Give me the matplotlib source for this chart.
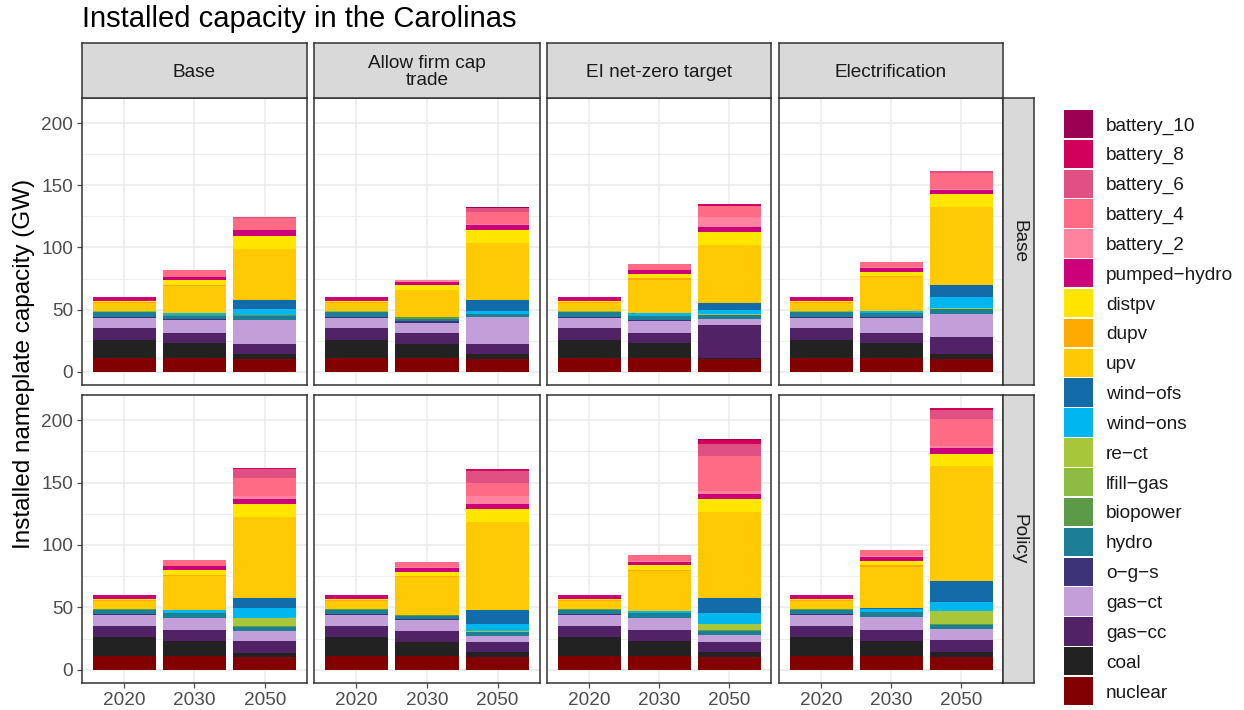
import matplotlib
matplotlib.use("Agg")
import matplotlib.pyplot as plt
import numpy as np
from matplotlib.patches import Rectangle

plt.rcParams['font.family'] = ['Liberation Sans', 'DejaVu Sans']

years = ["2020", "2030", "2050"]
scenarios = ["Base", "Allow firm cap\ntrade", "EI net-zero target", "Electrification"]
rows = ["Base", "Policy"]

techs = ["nuclear", "coal", "gas-cc", "gas-ct", "o-g-s", "hydro", "biopower", "lfill-gas",
         "re-ct", "wind-ons", "wind-ofs", "upv", "dupv", "distpv", "pumped-hydro",
         "battery_2", "battery_4", "battery_6", "battery_8", "battery_10"]
labels = [t.replace("-", "\u2212") for t in techs]
colors = ["#820000", "#222222", "#512266", "#C29FD8", "#3C3378", "#1C7F96", "#5B9B47",
          "#8BBB41", "#A8C63A", "#00B6EF", "#136CA9", "#FFC903", "#FFAA00", "#FFE500",
          "#CC0079", "#FF839E", "#FF6B85", "#E15083", "#D1005C", "#9C0052"]

# values (GW): 8 panels (row Base: 4 scenarios, row Policy: 4 scenarios) x 3 years
nuclear = [11, 10.9, 10.4, 11, 10.9, 10.1, 11, 10.9, 10.4, 11, 10.9, 10.4,
           11, 11.2, 10.7, 11, 11.2, 10.7, 11, 11.2, 10.4, 11, 11.2, 10.7]
coal = [15, 12.0, 3.7, 15, 11.2, 4.0, 15, 12.0, 0.8, 15, 12.0, 3.7,
        15, 12.0, 3.2, 15, 11.2, 3.7, 15, 12.0, 4.0, 15, 12.0, 3.7]
gas_cc = [9.3, 8.7, 8.0, 9.3, 9.5, 8.0, 9.3, 8.7, 26.8, 9.3, 8.7, 13.6,
          9.3, 8.8, 9.3, 9.3, 8.8, 8.0, 9.3, 8.8, 8.0, 9.3, 8.8, 9.6]
gas_ct = [8.3, 9.9, 19.9, 8.3, 8.0, 21.8, 8.3, 9.6, 4.8, 8.3, 12.0, 19.1,
          8.3, 9.6, 8.0, 8.3, 8.8, 4.8, 8.3, 9.6, 5.6, 8.3, 10.4, 8.8]
o_g_s = [0.8, 0.8, 0, 0.8, 1.1, 0, 0.8, 0.8, 0, 0.8, 0.8, 0,
         0.8, 0, 0, 0.8, 0.8, 0, 0.8, 0, 0, 0.8, 0, 0]
hydro = [3.5, 3.0, 3.2, 3.5, 2.1, 2.9, 3.5, 3.2, 3.2, 3.5, 2.7, 3.5,
         3.5, 4.0, 3.2, 3.5, 2.4, 3.2, 3.5, 4.0, 3.2, 3.5, 4.0, 3.2]
biopower = [0.6, 0.2, 0.5, 0.6, 1.0, 0, 0.6, 0, 0, 0.6, 0, 0,
            0.6, 0, 0.8, 0.6, 0.8, 0, 0.6, 0, 0.8, 0.6, 0, 0.8]
lfill_gas = [0.2, 0, 0, 0.2, 0.3, 0, 0.2, 0, 0, 0.2, 0, 0,
             0.2, 0, 0, 0.2, 0, 0, 0.2, 0, 0, 0.2, 0, 0]
re_ct = [0, 0, 0, 0, 0, 0, 0, 0, 0.8, 0, 0, 0.7,
         0, 0, 6.4, 0, 0, 0.8, 0, 0, 4.8, 0, 0, 10.4]
wind_ons = [0, 2.1, 5.1, 0, 0, 2.4, 0, 2.4, 3.2, 0, 2.1, 9.4,
            0, 2.4, 8.0, 0, 0, 5.6, 0, 1.6, 8.8, 0, 2.4, 7.2]
wind_ofs = [0, 0, 7.2, 0, 0, 8.8, 0, 0, 5.6, 0, 0, 9.5,
            0, 0, 8.0, 0, 0, 11.2, 0, 0, 12.0, 0, 1.1, 16.8]
upv = [6.8, 21.8, 40.7, 6.8, 21.6, 45.5, 6.8, 26.3, 46.3, 6.8, 27.4, 62.3,
       6.8, 27.2, 64.8, 6.8, 30.7, 70.4, 6.8, 32.3, 68.8, 6.8, 32.5, 92.0]
dupv = [0.5, 0.5, 0, 0.5, 0.5, 0, 0.5, 1.6, 0, 0.5, 0.8, 0,
        0.5, 0.8, 0, 0.5, 0.8, 0, 0.5, 0.8, 0, 0.5, 1.6, 0]
distpv = [1.0, 4.0, 10.3, 1.0, 3.7, 10.3, 1.0, 3.2, 10.3, 1.0, 2.9, 10.4,
          1.0, 4.0, 10.4, 1.0, 2.9, 10.4, 1.0, 3.7, 10.4, 1.0, 3.2, 9.6]
pumped_hydro = [3.2, 2.4, 4.8, 3.2, 2.4, 4.0, 3.2, 3.2, 4.0, 3.2, 3.2, 3.9,
                3.2, 3.2, 4.0, 3.2, 3.2, 4.0, 3.2, 2.4, 4.0, 3.2, 3.2, 4.8]
battery_2 = [0, 0.3, 0.6, 0, 1.2, 0.8, 0, 0, 8.0, 0, 0.5, 0.8,
             0, 0, 2.4, 0, 0.8, 6.4, 0, 0.8, 2.4, 0, 0.8, 1.6]
battery_4 = [0, 5.3, 9.5, 0, 0.4, 9.6, 0, 4.8, 9.3, 0, 4.3, 12.8,
             0, 4.8, 14.4, 0, 4.0, 10.4, 0, 4.8, 28.0, 0, 4.8, 21.6]
battery_6 = [0, 0, 0.6, 0, 0, 3.2, 0, 0, 0, 0, 0, 1.6,
             0, 0, 7.2, 0, 0, 9.6, 0, 0, 9.6, 0, 0, 7.2]
battery_8 = [0, 0, 0, 0, 0, 0, 0, 0, 1.1, 0, 0, 0,
             0, 0, 0.8, 0, 0, 1.6, 0, 0, 3.2, 0, 0, 1.6]
battery_10 = [0, 0, 0, 0, 0, 0.8, 0, 0, 0, 0, 0, 0,
              0, 0, 0, 0, 0, 0, 0, 0, 1.0, 0, 0, 0]

series = [nuclear, coal, gas_cc, gas_ct, o_g_s, hydro, biopower, lfill_gas, re_ct,
          wind_ons, wind_ofs, upv, dupv, distpv, pumped_hydro, battery_2, battery_4,
          battery_6, battery_8, battery_10]
data = np.array(series, dtype=float).reshape(len(techs), 8, 3)

W, H = 1244, 710
fig = plt.figure(figsize=(W / 100, H / 100), dpi=100)

def fax(x0, y0, x1, y1):
    return fig.add_axes([x0 / W, 1 - y1 / H, (x1 - x0) / W, (y1 - y0) / H])

col_x = [(82, 307), (314, 540), (547, 771), (779, 1003)]
row_y = [(98, 385), (395, 683)]
border = "#333333"
grid_c = "#EBEBEB"
strip_c = "#D9D9D9"
text_c = "#1A1A1A"
tick_c = "#4D4D4D"
fs = 13.7

for r in range(2):
    for c in range(4):
        x0, x1 = col_x[c]
        y0, y1 = row_y[r]
        ax = fax(x0, y0, x1, y1)
        p = r * 4 + c
        xs = np.arange(3)
        bottom = np.zeros(3)
        for k in range(len(techs)):
            v = data[k, p]
            ax.bar(xs, v, bottom=bottom, width=0.9, color=colors[k], linewidth=0, zorder=3)
            bottom += v
        ax.set_xlim(-0.6, 2.6)
        ax.set_ylim(-10.5, 220.1)
        ax.set_yticks([0, 50, 100, 150, 200])
        ax.set_yticks([25, 75, 125, 175], minor=True)
        ax.set_xticks(xs)
        ax.grid(True, which='major', color=grid_c, linewidth=1.1, zorder=0)
        ax.grid(True, which='minor', axis='y', color=grid_c, linewidth=0.55, zorder=0)
        ax.set_axisbelow(True)
        for s in ax.spines.values():
            s.set_color(border)
            s.set_linewidth(1.1)
        ax.tick_params(which='minor', length=0)
        ax.tick_params(which='major', color=tick_c, length=3.5, width=0.9,
                       labelcolor=tick_c, labelsize=fs, pad=3)
        if c == 0:
            ax.set_yticklabels(["0", "50", "100", "150", "200"])
        else:
            ax.tick_params(axis='y', left=False, labelleft=False)
        if r == 1:
            ax.set_xticklabels(years)
        else:
            ax.tick_params(axis='x', bottom=False, labelbottom=False)

        if r == 0:
            sa = fax(x0, 43, x1, 98)
            sa.set_xticks([]); sa.set_yticks([])
            sa.set_facecolor(strip_c)
            for s in sa.spines.values():
                s.set_color(border); s.set_linewidth(1.1)
            sa.text(0.5, 0.47, scenarios[c], ha='center', va='center', fontsize=fs,
                    color=text_c, linespacing=1.0, transform=sa.transAxes)
    y0, y1 = row_y[r]
    ra = fax(1003, y0, 1034, y1)
    ra.set_xticks([]); ra.set_yticks([])
    ra.set_facecolor(strip_c)
    for s in ra.spines.values():
        s.set_color(border); s.set_linewidth(1.1)
    ra.text(0.5, 0.5, rows[r], ha='center', va='center', fontsize=fs, rotation=-90,
            color=text_c, transform=ra.transAxes)

fig.text(82 / W, 1 - 19 / H, "Installed capacity in the Carolinas", fontsize=21,
         ha='left', va='center', color='black')
fig.text(24 / W, 1 - 364 / H, "Installed nameplate capacity (GW)", fontsize=17.5,
         rotation=90, ha='center', va='center', color='black')

# legend
top_y = 109.5
pitch = 29.85
for i in range(len(techs)):
    k = len(techs) - 1 - i
    yt = top_y + i * pitch
    fig.patches.append(Rectangle((1064 / W, 1 - (yt + pitch - 1.2) / H), 29 / W, (pitch - 1.5) / H,
                                 transform=fig.transFigure, facecolor=colors[k],
                                 edgecolor='none'))
    fig.text(1106 / W, 1 - (yt + pitch / 2 + 1.5) / H, labels[k], fontsize=fs, ha='left',
             va='center', color=text_c)

fig.savefig("out.png", dpi=100)
